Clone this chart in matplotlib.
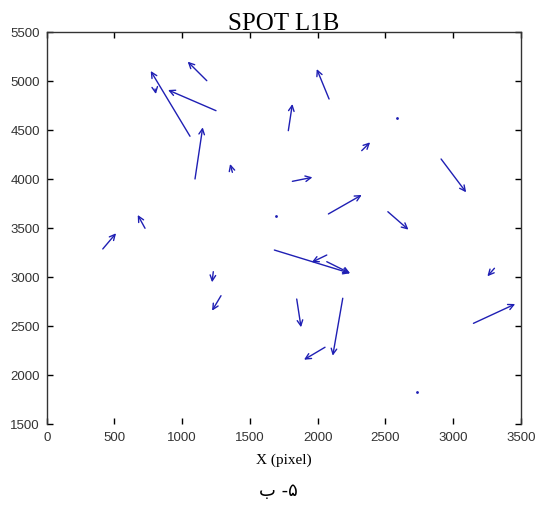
import numpy as np
import matplotlib
matplotlib.use('Agg')
import matplotlib.pyplot as plt

# displacement vectors: tail (x, y) -> head (x, y), in pixels
tail_x = [414, 726, 1230, 1287, 1058, 1250, 1182, 1095, 1371, 2085, 1784, 2326,
          1814, 2912, 2080, 2519, 1681, 2068, 2068, 1846, 2186, 2055, 3306, 3151, 800]
tail_y = [3283, 3494, 3051, 2806, 4433, 4694, 5000, 3997, 4065, 4813, 4490, 4286,
          3973, 4201, 3640, 3663, 3272, 3221, 3153, 2772, 2780, 2280, 3086, 2524, 4915]
head_x = [512, 672, 1221, 1221, 768, 896, 1041, 1152, 1354, 1994, 1814, 2388,
          1962, 3097, 2326, 2671, 2240, 1957, 2240, 1878, 2112, 1900, 3254, 3459, 806]
head_y = [3443, 3630, 2943, 2653, 5099, 4905, 5194, 4524, 4150, 5119, 4762, 4371,
          4014, 3861, 3834, 3480, 3035, 3147, 3035, 2484, 2194, 2153, 3004, 2721, 4864]

# near-zero vectors (drawn as dots)
dot_x = [2585, 1694, 2731]
dot_y = [4619, 3623, 1820]

blue = '#1f1fb4'

fig = plt.figure(figsize=(5.35, 5.06), dpi=100)
ax = fig.add_axes([0.0873, 0.1607, 0.886, 0.7747])

for x0, y0, x1, y1 in zip(tail_x, tail_y, head_x, head_y):
    ax.annotate('', xy=(x1, y1), xytext=(x0, y0),
                arrowprops=dict(arrowstyle='->', color=blue, lw=1.0,
                                mutation_scale=10, shrinkA=0, shrinkB=0))
ax.plot(dot_x, dot_y, linestyle='none', marker='.', markersize=2, color=blue)

ax.set_xlim(0, 3500)
ax.set_ylim(1500, 5500)
ax.set_xticks(np.arange(0, 3501, 500))
ax.set_yticks(np.arange(1500, 5501, 500))
ax.tick_params(direction='in', top=True, right=True, length=4, width=1,
               labelsize=9.5, pad=5, labelcolor='#333333')
for lab in ax.get_xticklabels() + ax.get_yticklabels():
    lab.set_family('Liberation Sans')
ax.spines['bottom'].set_visible(False)
for s in ['left', 'right', 'top']:
    ax.spines[s].set_linewidth(1.0)
    ax.spines[s].set_color('#333333')

ax.set_title('SPOT L1B', family='Liberation Serif', fontsize=18, pad=2)
ax.set_xlabel('X (pixel)', family='Liberation Serif', fontsize=11, labelpad=7)

fig.text(0.52, 0.02, 'ب -۵', family=['DejaVu Sans'], fontsize=13, ha='center')

fig.savefig('out.png', dpi=100)
